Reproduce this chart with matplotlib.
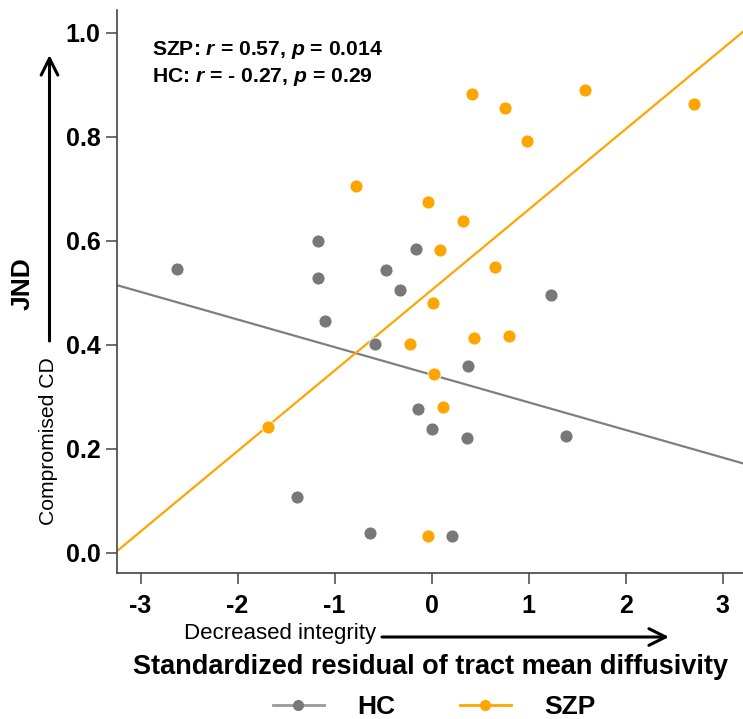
import numpy as np
import matplotlib
matplotlib.use('Agg')
import matplotlib.pyplot as plt

plt.rcParams['font.family'] = ['Liberation Sans', 'DejaVu Sans']
plt.rcParams['mathtext.fontset'] = 'custom'
plt.rcParams['mathtext.rm'] = 'Liberation Sans:bold'
plt.rcParams['mathtext.it'] = 'Liberation Sans:bold:italic'
plt.rcParams['mathtext.bf'] = 'Liberation Sans:bold'

# healthy controls
hc_x = [-2.62, -1.17, -1.17, -1.10, -0.58, -1.39, -0.63, -0.16, -0.47,
        -0.33, 1.23, 0.38, -0.14, 0.00, 0.37, 1.39, 0.21]
hc_y = [0.545, 0.600, 0.529, 0.446, 0.401, 0.107, 0.037, 0.585, 0.543,
        0.505, 0.495, 0.360, 0.277, 0.238, 0.221, 0.225, 0.033]

# patients
szp_x = [-0.78, -1.69, 0.42, 0.76, 1.58, 2.70, 0.98, -0.04, 0.32, 0.09,
         0.65, 0.01, -0.22, 0.44, 0.80, 0.02, 0.12, -0.04]
szp_y = [0.706, 0.242, 0.883, 0.855, 0.889, 0.863, 0.791, 0.674, 0.638, 0.582,
         0.550, 0.480, 0.401, 0.412, 0.417, 0.343, 0.280, 0.032]

x_ticks = [-3, -2, -1, 0, 1, 2, 3]
y_ticks = [0.0, 0.2, 0.4, 0.6, 0.8, 1.0]

ORANGE = '#ffa500'
GRAY = '#787878'

fig = plt.figure(figsize=(7.43, 7.19), dpi=100)
ax = fig.add_axes([117.3 / 743, 1 - 573.3 / 719, 1 - 117.3 / 743, (573.3 - 10) / 719])

xlim = (-3.24, 3.21)
ax.set_xlim(xlim)
ax.set_ylim(-0.0396, 1.0437)

# fitted lines over the full x range
xx = np.array(xlim)
k, b = np.polyfit(hc_x, hc_y, 1)
ax.plot(xx, k * xx + b, color='#7f7f7f', lw=1.6, zorder=2)
k, b = np.polyfit(szp_x, szp_y, 1)
ax.plot(xx, k * xx + b, color=ORANGE, lw=1.6, zorder=2)

ax.scatter(hc_x, hc_y, s=88, color=GRAY, edgecolor='white', linewidth=0.6, zorder=3)
ax.scatter(szp_x, szp_y, s=88, color=ORANGE, edgecolor='white', linewidth=0.6, zorder=3)

for side in ['top', 'right']:
    ax.spines[side].set_visible(False)
for side in ['left', 'bottom']:
    ax.spines[side].set_color('#444444')
    ax.spines[side].set_linewidth(1.2)

ax.set_xticks(x_ticks)
ax.set_xticklabels([str(t) for t in x_ticks])
ax.set_yticks(y_ticks)
ax.set_yticklabels(['%.1f' % t for t in y_ticks])
ax.tick_params(axis='both', direction='out', length=8, width=1.1, color='#444444',
               labelsize=18)
ax.tick_params(axis='x', pad=7)
ax.tick_params(axis='y', pad=4)
for lab in ax.get_xticklabels() + ax.get_yticklabels():
    lab.set_fontweight('bold')

ax.set_xlabel('Standardized residual of tract mean diffusivity', fontsize=19.5,
              fontweight='bold', va='center')
ax.xaxis.set_label_coords(0.5, (573.3 - 667) / 563.3)
ax.set_ylabel('JND', fontsize=19, fontweight='bold', va='center')
ax.yaxis.set_label_coords((23 - 117.3) / 625.7, (573.3 - 284) / 563.3)

ax.text(0.0555, (573.3 - 55) / 563.3, 'SZP: $r$ = 0.57, $p$ = 0.014',
        transform=ax.transAxes, fontsize=15.2, fontweight='bold', va='baseline')
ax.text(0.0555, (573.3 - 81.7) / 563.3, 'HC: $r$ = - 0.27, $p$ = 0.29',
        transform=ax.transAxes, fontsize=15.2, fontweight='bold', va='baseline')

# direction hints
fig.text(49, 719 - 441, 'Compromised CD', transform=None, rotation=90,
         fontsize=15.2, ha='center', va='center')
ax.annotate('', xy=(49.5, 719 - 55), xytext=(49.5, 719 - 341), xycoords='figure pixels',
            textcoords='figure pixels',
            arrowprops=dict(arrowstyle='->', lw=2.2, color='black', mutation_scale=30,
                            shrinkA=0, shrinkB=0))
fig.text(280, 719 - 633, 'Decreased integrity', transform=None,
         fontsize=16, ha='center', va='center')
ax.annotate('', xy=(669, 719 - 637), xytext=(382, 719 - 637), xycoords='figure pixels',
            textcoords='figure pixels',
            arrowprops=dict(arrowstyle='->', lw=2.2, color='black', mutation_scale=30,
                            shrinkA=0, shrinkB=0))

h1, = ax.plot([], [], color='#999999', lw=2, marker='o', ms=7, mfc=GRAY, mec=GRAY)
h2, = ax.plot([], [], color=ORANGE, lw=2, marker='o', ms=7, mfc=ORANGE, mec=ORANGE)
fig.legend([h1, h2], ['HC', 'SZP'], loc='center', bbox_to_anchor=(434 / 743, 1 - 707 / 719),
           ncol=2, frameon=False, prop={'size': 19, 'weight': 'bold'},
           handlelength=1.95, handletextpad=1.25, columnspacing=2.45)

fig.savefig('out.png', dpi=100)
